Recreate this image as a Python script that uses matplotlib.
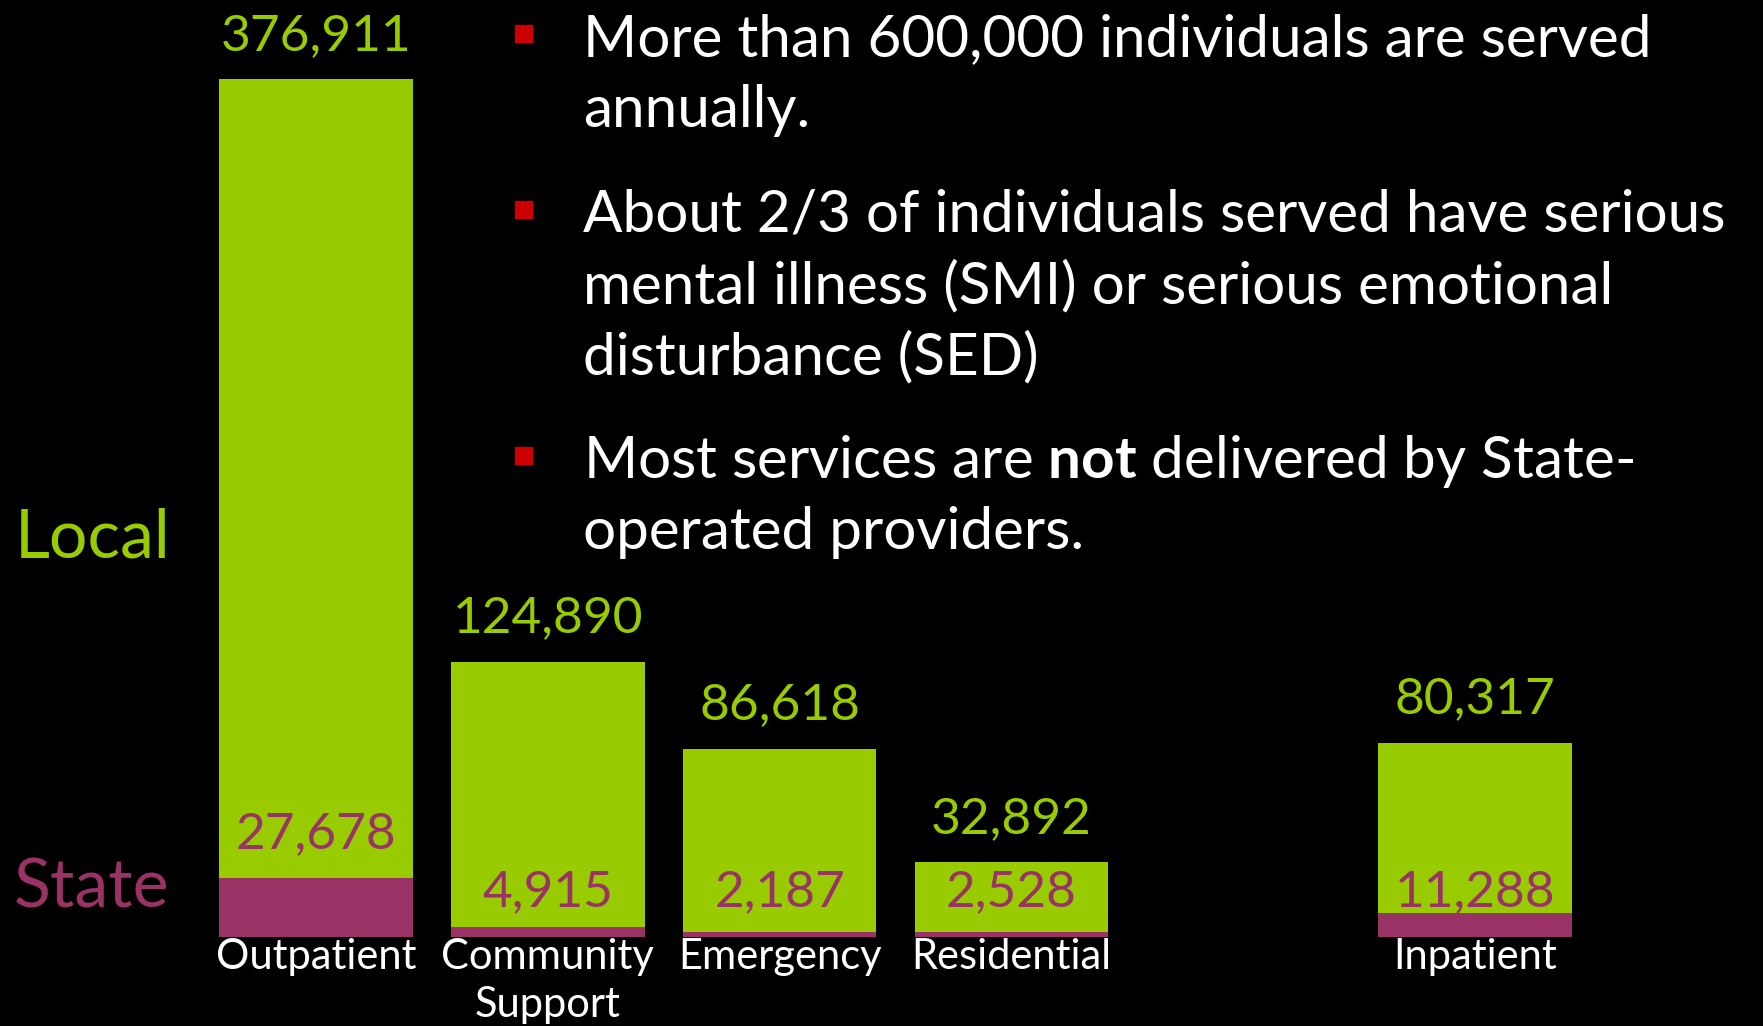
import matplotlib.pyplot as plt
from matplotlib.patches import Rectangle

plt.rcParams["font.family"] = ["Lato", "DejaVu Sans"]
plt.rcParams["mathtext.fontset"] = "custom"
plt.rcParams["mathtext.rm"] = "Lato"
plt.rcParams["mathtext.bf"] = "Lato:bold"

# individuals served, by service type
CATEGORIES = ["Outpatient", "Community\nSupport", "Emergency", "Residential", "Inpatient"]
X_POS = [0, 1, 2, 3, 5]
LOCAL = [376911, 124890, 86618, 32892, 80317]
STATE = [27678, 4915, 2187, 2528, 11288]

BULLETS = [
    ["More than 600,000 individuals are served", "annually."],
    ["About 2/3 of individuals served have serious",
     "mental illness (SMI) or serious emotional",
     "disturbance (SED)"],
    [r"Most services are $\mathbf{not}$ delivered by State-",
     "operated providers."],
]

GREEN = "#99CC00"
PURPLE = "#993366"
RED = "#CC0000"

W, H = 1763, 1026


def fx(px):
    return px / W


def fy(px):
    # pixels measured from the top of the picture
    return 1 - px / H


fig = plt.figure(figsize=(W / 100, H / 100), dpi=100, facecolor="black")
ax = fig.add_axes([fx(200), fy(937), fx(1391), 937 / H])
ax.set_facecolor("black")

width = 0.836
ax.bar(X_POS, STATE, width, color=PURPLE)
ax.bar(X_POS, LOCAL, width, bottom=STATE, color=GREEN)

for x, l, s in zip(X_POS, LOCAL, STATE):
    ax.annotate(f"{l:,}", (x, l + s), xytext=(0, 21), textcoords="offset points",
                ha="center", va="baseline", color=GREEN, fontsize=37)
    # small state segments get their label parked just above the baseline
    base = s if s > 20000 else 0
    ax.annotate(f"{s:,}", (x, base), xytext=(0, 22), textcoords="offset points",
                ha="center", va="baseline", color=PURPLE, fontsize=37)

ax.set_xlim(-0.5, 5.5)
ax.set_ylim(0, 441840)
ax.set_xticks(X_POS, CATEGORIES)
ax.tick_params(axis="x", length=0, pad=1, labelsize=30, colors="white")
for lbl in ax.get_xticklabels():
    lbl.set_linespacing(1.3)
ax.set_yticks([])
for sp in ax.spines.values():
    sp.set_visible(False)

fig.text(fx(15), fy(557), "Local", color=GREEN, fontsize=49, va="baseline")
fig.text(fx(14), fy(908), "State", color=PURPLE, fontsize=49, va="baseline")

baselines = [[56, 127], [232, 303, 374], [478, 549]]
for lines, ys in zip(BULLETS, baselines):
    fig.patches.append(Rectangle((fx(515), fy(ys[0] - 14)), 17 / W, 17 / H,
                                 transform=fig.transFigure, color=RED))
    for line, y in zip(lines, ys):
        fig.text(fx(583), fy(y), line, color="white", fontsize=42, va="baseline")

fig.savefig("out.png", dpi=100, facecolor="black")
